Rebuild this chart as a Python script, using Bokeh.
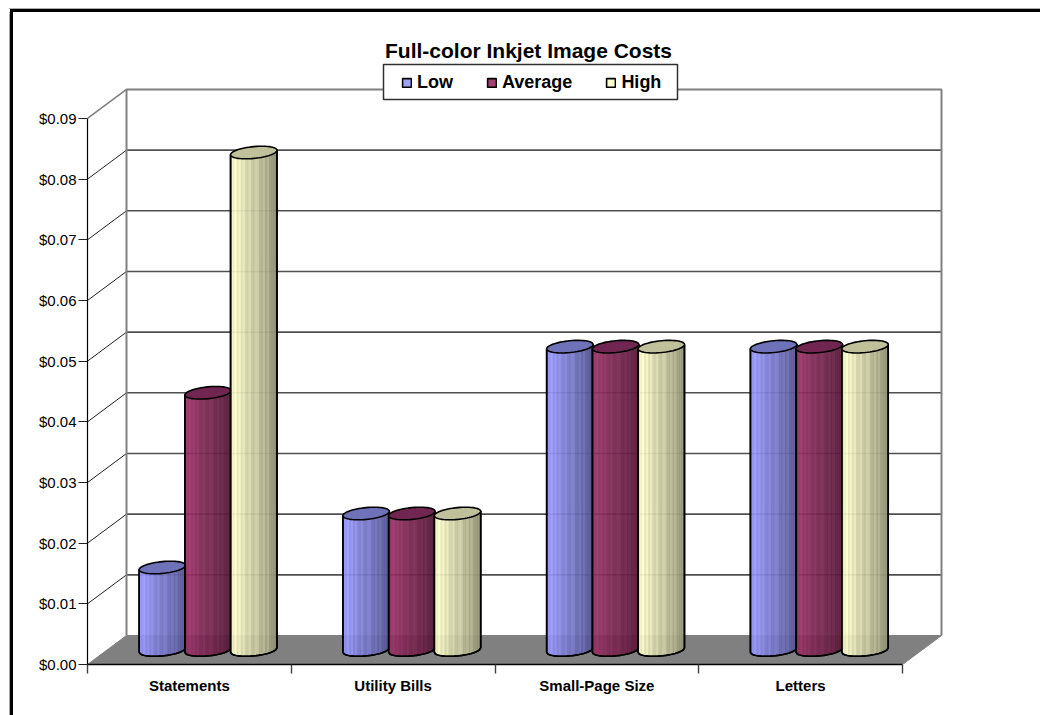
import numpy as np
from bokeh.embed import file_html
from bokeh.layouts import column, row
from bokeh.resources import INLINE
from bokeh.plotting import figure
from bokeh.models import (BoxAnnotation, FixedTicker, Label, Legend, LegendItem,
                          LinearAxis, NumeralTickFormatter, Range1d, Spacer)

# Chart values
categories = ["Statements", "Utility Bills", "Small-Page Size", "Letters"]
low = [0.0136, 0.0225, 0.05, 0.05]
average = [0.0424, 0.0225, 0.05, 0.05]
high = [0.082, 0.0225, 0.05, 0.05]
value_ticks = [0.0, 0.01, 0.02, 0.03, 0.04, 0.05, 0.06, 0.07, 0.08, 0.09]

FONT = "Liberation Sans"
W, H = 1040, 715
RULE_X, RULE_Y = 13, 12        # strips of the page frame beside and above the figure
LEFT, BASE = 87, 664           # plot origin on the page, px
PX_CAT, PX_VAL = 203.75, 6067  # px per category, px per dollar

# Oblique projection offsets of the 3-D box, in data units
DEPTH_X = 39 / PX_CAT
DEPTH_Y = 29 / PX_VAL


def data_x(px):
    return (px - LEFT) / PX_CAT


def data_y(px):
    return (BASE - px) / PX_VAL


p = figure(width=W - RULE_X, height=H - RULE_Y, output_backend="svg", toolbar_location=None,
           x_range=Range1d(0, data_x(W)), y_range=Range1d(0, data_y(RULE_Y)),
           x_axis_type=None, y_axis_type=None,
           min_border_left=LEFT - RULE_X, min_border_bottom=H - BASE, min_border_top=0, min_border_right=0,
           outline_line_color=None, background_fill_color="white", border_fill_color="white")
p.xgrid.visible = False
p.ygrid.visible = False

n = len(categories)

# Floor
p.patch([0, n, n + DEPTH_X, DEPTH_X], [0, 0, DEPTH_Y, DEPTH_Y], fill_color="#808080", line_color="#808080")

# Back wall grid and side wall rungs
top = value_ticks[-1]
inner = value_ticks[1:-1]
p.segment([DEPTH_X] * len(inner), [v + DEPTH_Y for v in inner], [n + DEPTH_X] * len(inner),
          [v + DEPTH_Y for v in inner], line_color="#505050", line_width=1.6)
p.segment([0] * len(inner), inner, [DEPTH_X] * len(inner), [v + DEPTH_Y for v in inner],
          line_color="#202020", line_width=1)
p.segment([0], [top], [DEPTH_X], [top + DEPTH_Y], line_color="#808080", line_width=1.6)
p.line([DEPTH_X, DEPTH_X, n + DEPTH_X, n + DEPTH_X],
       [DEPTH_Y, top + DEPTH_Y, top + DEPTH_Y, DEPTH_Y], line_color="#808080", line_width=2)

# Cylinder shape, in data units
SERIES_STEP = 45.7 / PX_CAT
RADIUS_X = 23.2 / PX_CAT
RADIUS_Y = 5.9 / PX_VAL
TILT = 2.2 / PX_VAL
CLUSTER_SHIFT = -0.8 / PX_CAT
STRIPS = 23
HIGHLIGHTS = {2, 4, 6, 9, 12, 13, 16, 18}


def rim(u):
    """Height of the lower rim above the cylinder's centre line at u in [-1, 1]."""
    return TILT * u - RADIUS_Y * np.sqrt(np.clip(1 - u * u, 0, 1))


def body_outline(cx, base, level):
    u = np.linspace(-1, 1, 41)
    xs = np.concatenate(([cx - RADIUS_X], cx + RADIUS_X * u, [cx + RADIUS_X]))
    ys = np.concatenate(([base + level - TILT], base + rim(u), [base + level + TILT]))
    return xs, ys


def cap_outline(cx, y):
    t = np.linspace(0, 2 * np.pi, 61)
    return cx + RADIUS_X * np.cos(t), y + TILT * np.cos(t) + RADIUS_Y * np.sin(t)


def strip_shapes(cx, base, level):
    xs, ys, colors, alphas = [], [], [], []
    edges = np.linspace(-1, 1, STRIPS + 1)
    for i in range(STRIPS):
        uu = np.linspace(edges[i], edges[i + 1], 5)
        xs.append(np.concatenate((cx + RADIUS_X * uu, cx + RADIUS_X * uu[::-1])))
        ys.append(np.concatenate((base + rim(uu), base + level + TILT * uu[::-1])))
        f = (i + 0.5) / STRIPS
        shade = 0.38 * (f - 0.08) / 0.92 + 0.06   # darker towards the right
        if i in HIGHLIGHTS:
            shade -= 0.07
        if shade < 0:
            colors.append("white"), alphas.append(-shade)
        else:
            colors.append("black"), alphas.append(shade)
    return xs, ys, colors, alphas


series = [("Low", low, "#9999FF", "#6F72B8"),
          ("Average", average, "#993366", "#702650"),
          ("High", high, "#FFFFCC", "#C0C09A")]

legend_items = []
for s_i, (name, values, color, cap_color) in enumerate(series):
    centres = [c + 0.5 + DEPTH_X / 2 + CLUSTER_SHIFT + (s_i - 1) * SERIES_STEP for c in range(n)]
    base = DEPTH_Y / 2
    outlines = [body_outline(cx, base, v) for cx, v in zip(centres, values)]
    body = p.patches([o[0] for o in outlines], [o[1] for o in outlines], fill_color=color,
                     fill_alpha=0.93, line_color="black", line_width=1.6)
    legend_items.append(LegendItem(label=name, renderers=[body]))
    for cx, v in zip(centres, values):
        sx, sy, sc, sa = strip_shapes(cx, base, v)
        p.patches(sx, sy, fill_color=sc, fill_alpha=sa, line_color=None)
    p.patches([o[0] for o in outlines], [o[1] for o in outlines], fill_color=None,
              line_color="black", line_width=1.6)
    caps = [cap_outline(cx, base + v) for cx, v in zip(centres, values)]
    p.patches([c[0] for c in caps], [c[1] for c in caps], fill_color=cap_color,
              line_color="black", line_width=1.6)

# Value axis
y_axis = LinearAxis(ticker=FixedTicker(ticks=value_ticks), bounds=(0, top),
                    formatter=NumeralTickFormatter(format="$0.00"),
                    axis_line_color="black", axis_line_width=1.2,
                    major_tick_line_color="#202020", major_tick_line_width=1,
                    major_tick_in=0, major_tick_out=9, minor_tick_line_color=None,
                    major_label_standoff=2, major_label_text_font=FONT,
                    major_label_text_font_size="15px", major_label_text_color="black")
p.add_layout(y_axis, "left")

# Category axis: labels sit between the tick marks
x_axis = LinearAxis(ticker=FixedTicker(ticks=[i + 0.5 for i in range(n)], minor_ticks=list(range(n + 1))),
                    bounds=(0, n),
                    major_label_overrides={i + 0.5: c for i, c in enumerate(categories)},
                    axis_line_color="black", axis_line_width=1.6,
                    major_tick_line_color=None, minor_tick_line_color="#404040", minor_tick_line_width=1.4,
                    minor_tick_in=0, minor_tick_out=9,
                    major_label_standoff=3, major_label_text_font=FONT, major_label_text_font_style="bold",
                    major_label_text_font_size="15px", major_label_text_color="black")
p.add_layout(x_axis, "below")

# Legend box and entries
p.add_layout(BoxAnnotation(left=data_x(383), right=data_x(677), top=data_y(64), bottom=data_y(99),
                           fill_color="white", fill_alpha=1, line_color="#303030", line_alpha=1, line_width=1.5))
legend = Legend(items=legend_items, orientation="horizontal", location=(401 - LEFT, BASE - 93), margin=0,
                padding=0, spacing=33, label_standoff=5, glyph_width=11, glyph_height=11,
                label_text_font=FONT, label_text_font_style="bold", label_text_font_size="18px",
                label_text_color="black", border_line_color=None, background_fill_alpha=0)
p.add_layout(legend)

# Title
p.add_layout(Label(x=data_x(528), y=data_y(50), text="Full-color Inkjet Image Costs",
                   text_font=FONT, text_font_style="bold", text_font_size="21px", text_color="black",
                   text_align="center", text_baseline="alphabetic"))

# Page frame along the top and left edges
rule_common = {"background-repeat": "no-repeat",
               "background-image": "linear-gradient(#000,#000),linear-gradient(#aaa,#aaa)"}
top_rule = Spacer(width=W, height=RULE_Y, styles={
    **rule_common,
    "background-size": "100% 3px,100% 1.2px",
    "background-position": "10px 8.7px,8.5px 7.5px",
    "background-color": "white"})
left_rule = Spacer(width=RULE_X, height=H - RULE_Y, styles={
    **rule_common,
    "background-size": "3px 100%,1.5px 100%",
    "background-position": "10px 0,8.5px 0",
    "background-color": "white"})

page = column(top_rule, row(left_rule, p))
open("out.html", "w").write(file_html(page, INLINE))
